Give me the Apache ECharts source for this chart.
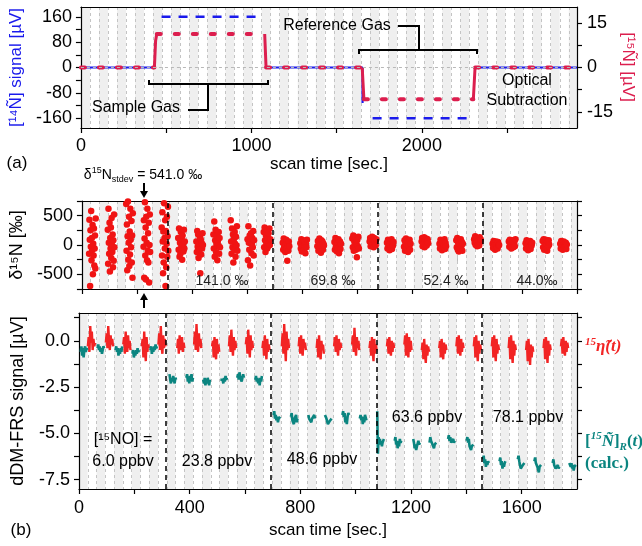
<!DOCTYPE html>
<html>
<head>
<meta charset="utf-8">
<script src="https://cdn.jsdelivr.net/npm/echarts@6/dist/echarts.min.js"></script>
<style>html,body{margin:0;padding:0;background:#fff}#chart{width:642px;height:546px}</style>
</head>
<body>
<div id="chart"></div>
<script>
(function () {
    'use strict';

    var FONT = '"Liberation Sans", Arial, sans-serif';
    var SERIF = '"Liberation Serif", "DejaVu Serif", serif';
    var BLUE = '#1a1aec', CRIMSON = '#dc1e4e', RED = '#f22424', TEAL = '#0b8580', DOT = '#f01414';

    // (a) optical subtraction, traces as [scan time, signal] segments
    var n14Solid = [[[0, 0], [431, 0]], [[1083, 0], [1652, 0], [1652, -112]], [[2325, 0], [2910, 0]]];
    var n14Dashed = [[[473, 160], [1030, 160]], [[1711, -160], [2285, -160]]];
    var n15Dashed = [[[0, 0], [431, 0]], [[445, 11.3], [1078, 11.3]], [[1086, 0], [1650, 0]],
        [[1660, -10.7], [2302, -10.7]], [[2312, 0], [2910, 0]]];
    var n15Steps = [[[431, 0], [438, 9], [445, 11.3]], [[1078, 11.3], [1086, 0]],
        [[1650, 0], [1660, -10.7]], [[2302, -10.7], [2312, 0]]];

    // (b) concentration steps
    var stepTimes = [312, 694, 1075, 1456];
    var concLabels = ['6.0 ppbv', '23.8 ppbv', '48.6 ppbv', '63.6 ppbv', '78.1 ppbv'];
    var stdevLabels = ['141.0 ‰', '69.8 ‰', '52.4 ‰', '44.0‰'];

    // delta 15N clusters (centre time, values in permil)
    var d15Centers = [38, 106, 173, 236, 302, 362, 428, 490, 553, 614, 673, 742, 806, 868, 930, 995, 1058,
        1121, 1183, 1247, 1312, 1373, 1438, 1505, 1564, 1625, 1687, 1751];
    var d15Values = [
        [-150, 430, 90, -700, 250, -30, 580, -260, 120, -90, 340, -500, 20, -180, 280, -350, -60, 160, -400, 450],
        [260, -320, 620, 40, -150, 380, -450, 120, -60, 300, -220, 460, 0, -120, 180, -380, 80, -270, 520, -40],
        [700, -100, 350, -430, 150, 740, -250, 40, 480, -360, 230, -160, 620, 90, -40, 410, -300, 160, -560, 540],
        [-30, 420, -560, 110, 730, -180, 300, -590, 480, 40, -260, 620, -100, 200, -300, 380, -640, 0, 520, -120],
        [300, -180, 560, 60, -480, 230, -300, 710, 120, -60, 420, -700, 240, -380, 20, 480, -200, 150, 650, -100],
        [120, -80, 280, -200, 40, -150, 220, -40, 90, -250, 160, 10, -110, 260, -60, 60],
        [60, -120, 240, -30, 180, -220, 20, -80, 140, -480, 100, -160, 40, -60, 200, 0],
        [180, -60, 400, -200, 80, 260, -120, 20, 160, -260, 60, -10, 220, -150, 120, -40],
        [420, 60, -150, 280, -40, 180, -300, 100, -80, 220, 20, -200, 140, -10, 320, -100],
        [100, -260, 320, 40, -80, 160, -350, 60, 200, -140, 10, 120, -40, 240, -180, 80],
        [220, -40, 300, 80, -120, 160, 20, 260, -60, 120, -20, 200, 40, 280, 0, 100],
        [40, -80, 110, -30, 70, -120, 10, 90, -60, -270, 30, -100, 60, -20],
        [30, -60, 100, -110, 50, -20, 80, -90, 0, 60, -140, 20, -40, 90],
        [-20, 70, -100, 40, 110, -60, 10, -130, 80, -30, 60, -80, 20, -10],
        [50, -80, 120, -20, 80, -110, 30, -50, 100, -140, 0, 60, -70, 20],
        [110, -40, 160, -100, 60, 0, 130, -80, 30, -210, 90, -20, 140, -60],
        [60, 120, -20, 100, 40, 140, 0, 80, -40, 120, 20, 60, -10, 100],
        [40, -60, 90, -20, 60, -90, 10, 70, -40, 100, -70, 30, -10, 50],
        [-30, 80, -100, 30, 110, -60, 0, 70, -120, 40, -20, 90, -80, 20],
        [60, 120, -20, 90, 20, 130, -40, 70, 0, 110, -10, 50, 100, 30],
        [20, -60, 90, -10, 60, -90, 30, 70, -40, 0, 100, -70, 40, -20],
        [80, -40, 120, -80, 30, -110, 60, 10, -60, 100, -20, 50, -100, 20],
        [100, 40, 150, 0, 120, 60, -20, 110, 20, 80, -10, 130, 50, 90],
        [20, -50, 70, -20, 40, -80, 10, 60, -40, 30, -60, 50, -10, 0],
        [60, -30, 90, 10, 70, -60, 40, -10, 80, -40, 20, 50, -20, 100],
        [30, -60, 80, -20, 60, -90, 10, 50, -40, 70, -70, 20, -10, 40],
        [70, -40, 100, -80, 40, 0, 90, -60, 20, -100, 60, -20, 80, 10],
        [20, -60, 70, -30, 50, -80, 0, 60, -50, 30, -20, 40, -70, 10]
    ];

    // 15-eta(t) bursts [µV]
    var etaCenters = [45, 110, 173, 240, 300, 368, 429, 494, 555, 616, 676, 746, 807, 872, 935, 1000, 1063,
        1126, 1189, 1252, 1315, 1377, 1440, 1505, 1566, 1629, 1692, 1755];
    var etaValues = [
        [-0.3, 0.2, -0.6, 0.8, -0.1, 0.5, -0.5, 0.1, -0.3, -0.1],
        [-0.1, 0.4, -0.4, 0.8, 0.0, -0.5, 0.3, -0.2, 0.1, -0.3],
        [-0.2, 0.2, -0.7, 0.5, -0.3, -0.6, 0.3, -0.4, 0.0, -0.5],
        [-0.3, 0.1, -0.9, 0.5, -0.5, -1.1, 0.2, -0.6, -0.2, -0.4],
        [-0.2, 0.4, -0.5, 0.8, -0.3, -0.7, 0.3, -0.4, 0.1, -0.3],
        [-0.4, 0.1, -0.7, 0.3, -0.5, -0.2, 0.2, -0.6, -0.1, -0.4],
        [-0.2, 0.5, -0.5, 0.9, -0.1, -0.6, 0.4, -0.3, 0.1, -0.4],
        [-0.3, 0.0, -0.9, 0.2, -0.5, -1.0, 0.1, -0.7, -0.2, -0.6],
        [-0.3, 0.3, -0.6, 0.6, -0.2, -0.8, 0.2, -0.5, 0.0, -0.4],
        [-0.2, 0.2, -0.7, 0.6, -0.3, -0.9, 0.3, -0.5, 0.0, -0.4],
        [-0.4, 0.0, -0.8, 0.3, -0.5, -1.0, 0.1, -0.6, -0.2, -0.5],
        [-0.3, 0.4, -0.7, 0.9, -0.2, -1.1, 0.5, -0.5, 0.1, -0.4],
        [-0.3, 0.2, -0.7, 0.3, -0.5, -0.8, 0.1, -0.4, -0.1, -0.5],
        [-0.4, 0.1, -0.9, 0.3, -0.6, -1.0, 0.0, -0.5, -0.2, -0.7],
        [-0.3, 0.2, -0.6, 0.3, -0.4, -0.8, 0.1, -0.5, -0.1, -0.4],
        [-0.2, 0.3, -0.6, 0.7, -0.3, -0.8, 0.2, -0.4, 0.0, -0.5],
        [-0.4, 0.0, -0.8, 0.2, -0.6, -1.1, 0.1, -0.7, -0.2, -0.5],
        [-0.3, 0.1, -0.7, 0.2, -0.5, -0.8, 0.0, -0.6, -0.1, -0.4],
        [-0.2, 0.3, -0.8, 0.4, -0.4, -0.9, 0.2, -0.6, 0.0, -0.5],
        [-0.5, -0.1, -1.0, 0.1, -0.7, -1.2, -0.2, -0.8, -0.3, -0.6],
        [-0.4, 0.0, -0.9, 0.1, -0.6, -1.0, -0.1, -0.7, -0.2, -0.5],
        [-0.3, 0.2, -0.7, 0.3, -0.5, -0.8, 0.1, -0.6, -0.1, -0.4],
        [-0.3, 0.2, -0.9, 0.3, -0.6, -1.1, 0.0, -0.7, -0.2, -0.5],
        [-0.3, 0.2, -0.9, 0.3, -0.6, -1.1, 0.1, -0.7, -0.2, -0.5],
        [-0.4, 0.2, -1.0, 0.3, -0.6, -1.2, 0.0, -0.8, -0.2, -0.5],
        [-0.5, 0.0, -1.1, 0.1, -0.7, -1.3, -0.2, -0.9, -0.3, -0.6],
        [-0.4, 0.1, -1.0, 0.2, -0.6, -1.2, 0.0, -0.8, -0.2, -0.5],
        [-0.3, 0.1, -0.7, 0.2, -0.5, -0.8, 0.0, -0.6, -0.1, -0.4]
    ];

    // [15N]_R(t) bursts, calculated [µV]
    var refCenters = [18, 79, 144, 205, 270, 339, 400, 461, 523, 584, 649, 715, 778, 841, 901, 964, 1027,
        1090, 1153, 1220, 1279, 1346, 1413, 1472, 1532, 1598, 1658, 1724, 1784];
    var refValues = [
        [-0.6, -0.3, -0.8, -0.4, -0.9, -0.5, -0.3, -0.6, -0.4, -0.5],
        [-0.4, -0.2, -0.5, -0.3, -0.6, -0.4, -0.7, -0.5, -0.3, -0.4],
        [-0.5, -0.3, -0.6, -0.4, -0.8, -0.5, -0.7, -0.4, -0.6, -0.3],
        [-0.7, -0.5, -0.9, -0.6, -0.8, -0.5, -0.7, -0.4, -0.6, -0.5],
        [-0.5, -0.3, -0.7, -0.4, -0.6, -0.3, -0.5, -0.2, -0.4, -0.3],
        [-1.8, -2.1, -2.3, -2.0, -2.2, -1.9, -2.1, -2.3, -2.0, -2.1],
        [-2.0, -1.8, -2.2, -2.0, -2.3, -1.9, -2.1, -1.8, -2.2, -2.0],
        [-2.1, -2.3, -2.0, -2.4, -2.1, -2.3, -2.0, -2.2, -2.4, -2.1],
        [-2.1, -2.0, -2.2, -2.1, -2.3, -2.0, -2.2, -1.9, -2.1, -2.0],
        [-2.0, -1.8, -2.1, -1.7, -2.0, -1.9, -2.2, -2.0, -1.8, -2.0],
        [-2.1, -1.9, -2.2, -2.0, -2.3, -2.1, -2.4, -2.0, -2.2, -1.9],
        [-4.0, -3.8, -4.2, -4.0, -4.3, -4.1, -4.4, -4.2, -4.3, -4.1],
        [-4.1, -3.9, -4.3, -4.2, -4.5, -4.2, -4.3, -4.0, -4.4, -4.2],
        [-4.0, -4.2, -4.3, -4.1, -4.4, -4.2, -4.3, -4.1, -4.0, -4.2],
        [-4.0, -3.9, -4.2, -4.3, -4.5, -4.4, -4.6, -4.3, -4.4, -4.2],
        [-4.0, -3.8, -4.1, -3.9, -4.4, -4.2, -4.5, -4.1, -3.9, -4.0],
        [-4.2, -4.0, -4.3, -4.1, -4.5, -4.2, -4.4, -4.0, -4.1, -4.3],
        [-3.8, -6.1, -5.2, -5.5, -5.3, -5.6, -5.4, -5.7, -5.5, -5.4, -5.3],
        [-5.4, -5.2, -5.6, -5.4, -5.8, -5.5, -5.7, -5.3, -5.5, -5.4],
        [-5.3, -5.5, -5.8, -5.6, -5.9, -5.7, -5.8, -5.4, -5.6, -5.5],
        [-5.5, -5.2, -5.4, -5.3, -5.6, -5.5, -5.8, -5.6, -5.7, -5.5],
        [-5.3, -5.1, -5.4, -5.2, -5.5, -5.4, -5.6, -5.3, -5.5, -5.4],
        [-5.4, -5.2, -5.5, -5.3, -5.7, -5.6, -5.9, -5.7, -5.8, -5.6],
        [-6.4, -6.2, -6.6, -6.4, -6.8, -6.5, -6.7, -6.5, -6.6, -6.5],
        [-6.5, -6.3, -6.7, -6.5, -6.9, -6.6, -6.8, -6.6, -6.5, -6.6],
        [-6.4, -6.2, -6.5, -6.7, -6.9, -6.8, -7.0, -6.7, -6.8, -6.6],
        [-6.5, -6.3, -6.6, -6.5, -6.8, -6.9, -7.1, -6.8, -6.9, -6.7],
        [-6.6, -6.4, -6.7, -6.6, -6.9, -6.8, -7.0, -6.7, -6.9, -6.8],
        [-6.6, -6.5, -6.8, -6.6, -6.9, -6.7, -7.0, -6.8, -6.9, -6.7]
    ];

    function joinSegs(segs) {
        var out = [];
        segs.forEach(function (s, i) {
            if (i) out.push([s[0][0], null]);
            out = out.concat(s);
        });
        return out;
    }

    // samples of each burst spread evenly over `span` seconds around its centre
    function bursts(centers, groups, span, gaps) {
        var out = [];
        centers.forEach(function (c, k) {
            var vals = groups[k], dt = span / (vals.length - 1), t0 = c - span / 2;
            vals.forEach(function (v, i) { out.push([t0 + i * dt, v]); });
            if (gaps) out.push([c + span / 2, null]);
        });
        return out;
    }

    var LINE = { show: true, onZero: false, lineStyle: { color: '#000', width: 1.2 } };
    var TICK = { show: true, inside: false, length: 5, lineStyle: { color: '#000', width: 1.2 } };

    function bandAxis(grid, max, step) {
        return {
            gridIndex: grid, type: 'value', position: 'top', min: 0, max: max, interval: step,
            axisLine: LINE, axisTick: { show: false }, axisLabel: { show: false },
            splitLine: { show: true, lineStyle: { color: '#c4c4c4', type: [3, 3], width: 1 } },
            splitArea: { show: true, areaStyle: { color: ['#efefef', '#ffffff'] } }
        };
    }

    function stepLines() {
        return {
            silent: true, symbol: 'none', label: { show: false },
            lineStyle: { color: '#000', type: [5, 4], width: 1.5 },
            data: stepTimes.map(function (t) { return { xAxis: t }; })
        };
    }

    function text(x, y, str, size, extra) {
        var st = { text: str, x: x, y: y, align: 'center', verticalAlign: 'middle',
            fontSize: size, fontFamily: FONT, fill: '#000' };
        if (extra) Object.keys(extra).forEach(function (k) { st[k] = extra[k]; });
        return { type: 'text', style: st, z: 100 };
    }

    function arrow(x, y1, y2) {
        var d = y2 > y1 ? 1 : -1;
        return { type: 'group', z: 100, children: [
            { type: 'line', shape: { x1: x, y1: y1, x2: x, y2: y2 - d * 5 }, style: { stroke: '#000', lineWidth: 2 } },
            { type: 'polygon', shape: { points: [[x - 4, y2 - d * 7], [x + 4, y2 - d * 7], [x, y2]] }, style: { fill: '#000' } }
        ] };
    }

    function poly(points) {
        return { type: 'polyline', shape: { points: points }, style: { stroke: '#000', lineWidth: 2, fill: null }, z: 100 };
    }

    var graphics = [
        poly([[149, 80], [149, 84], [268, 84], [268, 80]]), poly([[208, 84], [208, 110], [188, 110]]),
        poly([[359, 54], [359, 50], [477, 50], [477, 54]]), poly([[419, 50], [419, 26], [398, 26]]),
        text(136, 108, 'Sample Gas', 16), text(337, 26, 'Reference Gas', 16),
        text(527, 81, 'Optical', 16), text(527, 101, 'Subtraction', 16),
        text(17, 163, '(a)', 17), text(21, 530, '(b)', 17),
        // right-hand title of (a), reading top to bottom
        { type: 'text', z: 100, x: 628, y: 67, rotation: -Math.PI / 2, style: {
            text: '[¹⁵Ñ] [µV]', x: 0, y: 0, align: 'center', verticalAlign: 'middle',
            fontSize: 17, fontFamily: FONT, fill: CRIMSON } },
        { type: 'text', z: 100, style: {
            text: '{a|δ}{s|15}{a|N}{b|stdev}{a| = 541.0 ‰}', x: 143, y: 175, align: 'center', verticalAlign: 'middle',
            rich: {
                a: { fontSize: 14, fontFamily: FONT, fill: '#000', lineHeight: 18 },
                s: { fontSize: 9, fontFamily: FONT, fill: '#000', verticalAlign: 'top', lineHeight: 18 },
                b: { fontSize: 9, fontFamily: FONT, fill: '#000', verticalAlign: 'bottom', lineHeight: 18 }
            } } },
        arrow(144, 183, 198), arrow(144, 308, 293),
        arrow(250, 206, 221), arrow(250, 285, 270),
        arrow(356, 218, 233), arrow(356, 277, 262),
        arrow(459, 223, 238), arrow(459, 270, 255),
        arrow(547, 223, 238), arrow(547, 270, 255),
        text(222, 281, stdevLabels[0], 14, { fill: '#222' }), text(333, 281, stdevLabels[1], 14, { fill: '#222' }),
        text(446, 281, stdevLabels[2], 14, { fill: '#222' }), text(537, 281, stdevLabels[3], 14, { fill: '#222' }),
        text(123, 440, '[¹⁵NO] =', 16), text(123, 462, concLabels[0], 16), text(217, 462, concLabels[1], 16),
        text(322, 460, concLabels[2], 16), text(427, 418, concLabels[3], 16), text(528, 418, concLabels[4], 16),
        { type: 'text', z: 100, style: {
            text: '{s|15}{m|η̃(t)}', x: 585, y: 347, align: 'left', verticalAlign: 'middle',
            rich: {
                s: { fontSize: 11, fontFamily: SERIF, fontWeight: 'bold', fontStyle: 'italic', fill: RED, verticalAlign: 'top', lineHeight: 20 },
                m: { fontSize: 17, fontFamily: SERIF, fontWeight: 'bold', fontStyle: 'italic', fill: RED, lineHeight: 20 }
            } } },
        { type: 'text', z: 100, style: {
            text: '{m|[}{s|15}{i|Ñ}{m|]}{r|R}{m|(}{i|t}{m|)}\n{m|(calc.)}', x: 585, y: 453, align: 'left', verticalAlign: 'middle',
            rich: {
                s: { fontSize: 11, fontFamily: SERIF, fontWeight: 'bold', fontStyle: 'italic', fill: TEAL, verticalAlign: 'top', lineHeight: 22 },
                r: { fontSize: 11, fontFamily: SERIF, fontWeight: 'bold', fontStyle: 'italic', fill: TEAL, verticalAlign: 'bottom', lineHeight: 22 },
                i: { fontSize: 17, fontFamily: SERIF, fontWeight: 'bold', fontStyle: 'italic', fill: TEAL, lineHeight: 22 },
                m: { fontSize: 17, fontFamily: SERIF, fontWeight: 'bold', fill: TEAL, lineHeight: 22 }
            } } }
    ];

    var chart = echarts.init(document.getElementById('chart'), null, { renderer: 'canvas' });

    chart.setOption({
        animation: false,
        backgroundColor: '#fff',
        textStyle: { fontFamily: FONT },
        grid: [
            { left: 79, top: 7, width: 498, height: 121 },
            { left: 79, top: 201, width: 498, height: 88 },
            { left: 79, top: 313, width: 498, height: 176 }
        ],
        xAxis: [
            {
                gridIndex: 0, type: 'value', min: 0, max: 2910, interval: 500,
                axisLine: LINE, axisTick: TICK, splitLine: { show: false },
                axisLabel: { color: '#000', fontSize: 18, fontFamily: FONT, margin: 9, showMaxLabel: false,
                    formatter: function (v) { return v % 1000 === 0 ? String(v) : ''; } },
                name: 'scan time [sec.]', nameLocation: 'middle', nameGap: 26,
                nameTextStyle: { color: '#000', fontSize: 17, fontFamily: FONT }
            },
            bandAxis(0, 2910, 53),
            {
                gridIndex: 1, type: 'value', min: 0, max: 1800, interval: 200,
                axisLine: LINE, axisTick: TICK, splitLine: { show: false }, axisLabel: { show: false }
            },
            bandAxis(1, 1800, 31.75),
            {
                gridIndex: 2, type: 'value', min: 0, max: 1800, interval: 200,
                axisLine: LINE, axisTick: TICK, splitLine: { show: false },
                axisLabel: { color: '#000', fontSize: 18, fontFamily: FONT, margin: 10, showMaxLabel: false,
                    formatter: function (v) { return v % 400 === 0 ? String(v) : ''; } },
                name: 'scan time [sec.]', nameLocation: 'middle', nameGap: 33,
                nameTextStyle: { color: '#000', fontSize: 17, fontFamily: FONT }
            },
            bandAxis(2, 1800, 31.75)
        ],
        yAxis: [
            {
                gridIndex: 0, type: 'value', min: -191, max: 191, position: 'left',
                axisLine: LINE, splitLine: { show: false },
                axisTick: { show: true, length: 5, lineStyle: { color: '#000', width: 1.2 },
                    customValues: [-160, -120, -80, -40, 0, 40, 80, 120, 160] },
                axisLabel: { color: '#000', fontSize: 18, fontFamily: FONT, margin: 9,
                    customValues: [-160, -80, 0, 80, 160] },
                name: '[¹⁴Ñ] signal [µV]', nameLocation: 'middle', nameRotate: 90, nameGap: 50,
                nameTextStyle: { color: BLUE, fontSize: 17, fontFamily: FONT }
            },
            {
                gridIndex: 0, type: 'value', min: -20.4, max: 20.4, position: 'right',
                axisLine: LINE, splitLine: { show: false },
                axisTick: { show: true, length: 5, lineStyle: { color: '#000', width: 1.2 },
                    customValues: [-15, -7.5, 0, 7.5, 15] },
                axisLabel: { color: '#000', fontSize: 18, fontFamily: FONT, margin: 10,
                    customValues: [-15, 0, 15] }
            },
            {
                gridIndex: 1, type: 'value', min: -750, max: 750, interval: 250, position: 'left',
                axisLine: LINE, axisTick: TICK, splitLine: { show: false },
                axisLabel: { color: '#000', fontSize: 18, fontFamily: FONT, margin: 9,
                    formatter: function (v) { return (v % 500 === 0 && Math.abs(v) < 750) ? String(v) : ''; } },
                name: 'δ¹⁵N [‰]', nameLocation: 'middle', nameRotate: 90, nameGap: 52,
                nameTextStyle: { color: '#000', fontSize: 18, fontFamily: FONT }
            },
            {
                gridIndex: 1, type: 'value', min: -750, max: 750, interval: 250, position: 'right',
                axisLine: LINE, axisTick: TICK, splitLine: { show: false }, axisLabel: { show: false }
            },
            {
                gridIndex: 2, type: 'value', min: -8, max: 1.5, position: 'left',
                axisLine: LINE, splitLine: { show: false },
                axisTick: { show: true, length: 5, lineStyle: { color: '#000', width: 1.2 },
                    customValues: [1.25, 0, -1.25, -2.5, -3.75, -5, -6.25, -7.5] },
                axisLabel: { color: '#000', fontSize: 18, fontFamily: FONT, margin: 9,
                    customValues: [0, -2.5, -5, -7.5], formatter: function (v) { return v.toFixed(1); } },
                name: 'dDM-FRS signal [µV]', nameLocation: 'middle', nameRotate: 90, nameGap: 52,
                nameTextStyle: { color: '#000', fontSize: 18, fontFamily: FONT }
            },
            {
                gridIndex: 2, type: 'value', min: -8, max: 1.5, position: 'right',
                axisLine: LINE, splitLine: { show: false }, axisLabel: { show: false },
                axisTick: { show: true, length: 5, lineStyle: { color: '#000', width: 1.2 },
                    customValues: [1.25, 0, -1.25, -2.5, -3.75, -5, -6.25, -7.5] }
            }
        ],
        series: [
            {
                type: 'line', xAxisIndex: 0, yAxisIndex: 0, data: joinSegs(n14Solid), symbol: 'none', z: 3,
                lineStyle: { color: BLUE, width: 2.2 },
                markLine: { silent: true, symbol: 'none', label: { show: false },
                    lineStyle: { color: '#b8b8b8', type: [3, 3], width: 1 }, data: [{ yAxis: 0 }] }
            },
            {
                type: 'line', xAxisIndex: 0, yAxisIndex: 0, data: joinSegs(n14Dashed), symbol: 'none', z: 3,
                lineStyle: { color: BLUE, width: 2.5, type: [9, 8] }
            },
            {
                type: 'line', xAxisIndex: 0, yAxisIndex: 1, data: joinSegs(n15Steps), symbol: 'none', z: 4,
                lineStyle: { color: CRIMSON, width: 3 }
            },
            {
                type: 'line', xAxisIndex: 0, yAxisIndex: 1, data: joinSegs(n15Dashed), symbol: 'none', z: 4,
                lineStyle: { color: CRIMSON, width: 4, type: [4, 14], cap: 'round' }
            },
            {
                type: 'scatter', xAxisIndex: 2, yAxisIndex: 2, symbolSize: 6.5, z: 3,
                itemStyle: { color: DOT, opacity: 1 },
                data: bursts(d15Centers, d15Values, 24, false),
                markLine: stepLines()
            },
            {
                type: 'line', xAxisIndex: 4, yAxisIndex: 4, symbol: 'none', z: 3,
                lineStyle: { color: RED, width: 2.4 },
                data: bursts(etaCenters, etaValues, 26, true),
                markLine: stepLines()
            },
            {
                type: 'line', xAxisIndex: 4, yAxisIndex: 4, symbol: 'none', z: 3,
                lineStyle: { color: TEAL, width: 2.6 },
                data: bursts(refCenters, refValues, 24, true)
            }
        ],
        graphic: graphics
    });
})();
</script>
</body>
</html>
